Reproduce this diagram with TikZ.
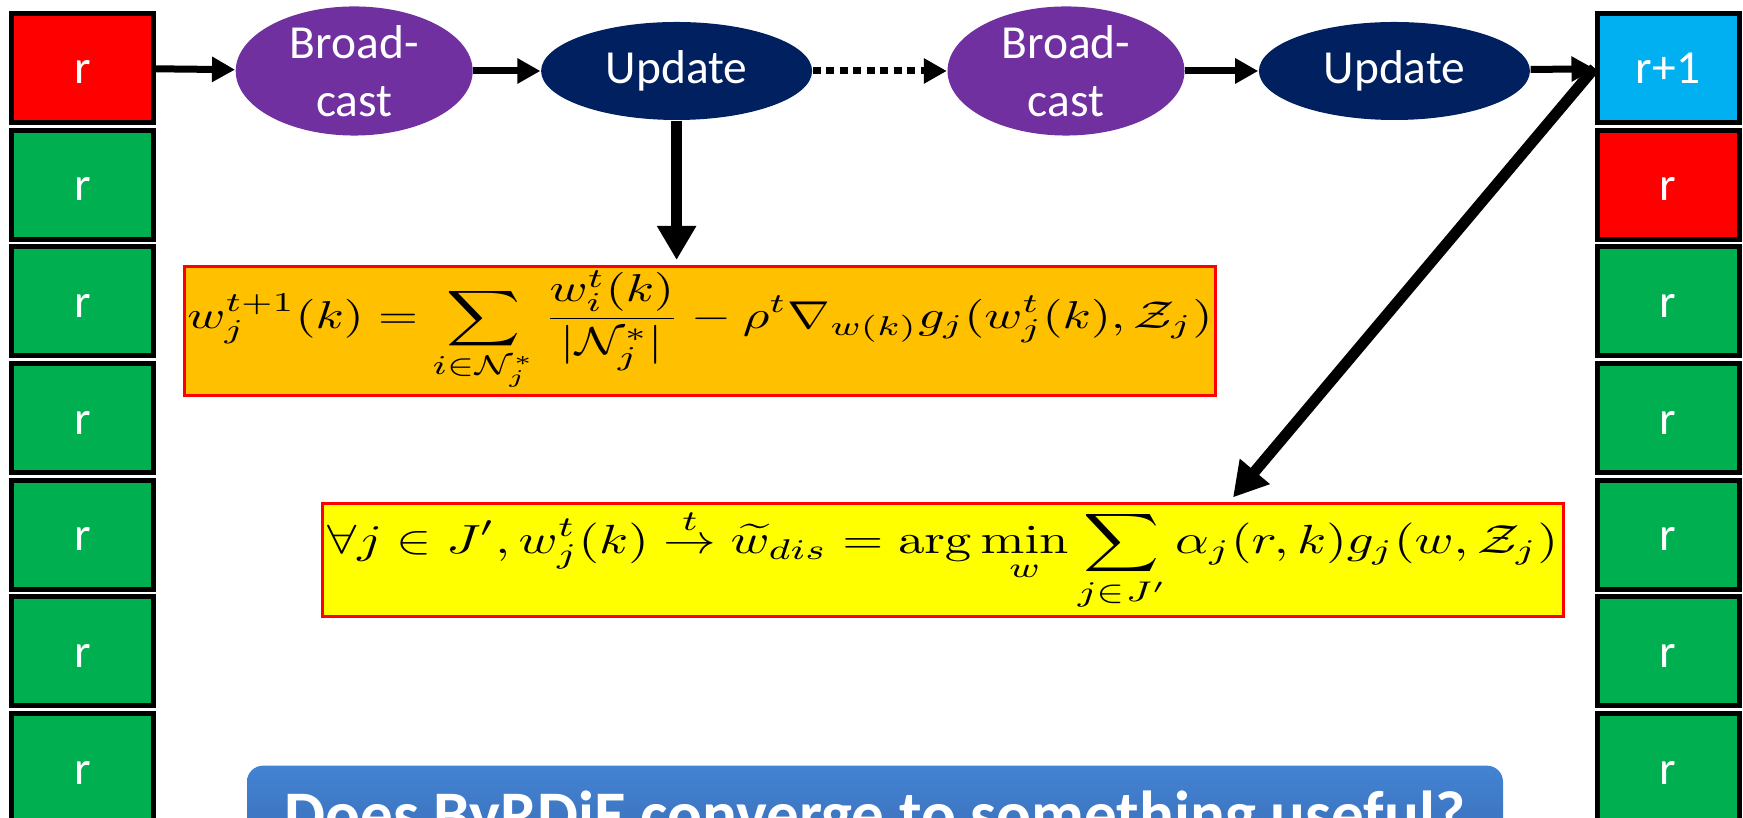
\documentclass[tikz,border=0pt]{standalone}
\usepackage{amsmath,amssymb}
\usepackage{graphicx}
\usepackage[no-math]{fontspec}
\newfontfamily\calibri{Carlito}
\usetikzlibrary{shapes.geometric, arrows.meta, positioning, calc}
\definecolor{cellred}{HTML}{FF0000}
\definecolor{cellgreen}{HTML}{00B050}
\definecolor{cellblue}{HTML}{00B0F0}
\definecolor{bcpurple}{HTML}{7030A0}
\definecolor{updnavy}{HTML}{002060}
\definecolor{eqorange}{HTML}{FFC000}
\definecolor{eqyellow}{HTML}{FFFF00}
\definecolor{bannertop}{HTML}{4383D3}
\definecolor{bannerbot}{HTML}{386AB2}

\begin{document}
\begin{tikzpicture}[
  lblfont/.style={font=\calibri\fontsize{13.5}{16.5}\selectfont, text=white},
  cell/.style={draw=black, line width=0.05cm, minimum width=1.42cm,
    minimum height=1.09cm, inner sep=0pt, text height=0.42cm,
    text depth=0.1cm, lblfont},
  oval/.style={ellipse, inner sep=0pt, minimum height=0.98cm,
    align=center, lblfont},
  bcast/.style={oval, fill=bcpurple, minimum width=2.37cm},
  upd/.style={oval, fill=updnavy, minimum width=2.71cm},
  eqbox/.style={draw=cellred, line width=0.03cm, inner sep=0pt},
  arr/.style={-{Triangle[length=0.23cm, width=0.24cm]}, line width=0.07cm},
  bigarr/.style={-{Triangle[length=0.34cm, width=0.37cm]}, line width=0.11cm},
  banner/.style={rounded corners=0.16cm, top color=bannertop,
    bottom color=bannerbot, minimum width=12.56cm, inner ysep=0.21cm,
    text height=0.5cm, text depth=0.12cm, text=white,
    font=\calibri\bfseries\fontsize{18.5}{22}\selectfont},
]
  \clip (0,0) rectangle (17.43,-8.18);

  % -- Node columns (round r and round r+1) --
  \foreach \i/\col in {0/cellred, 1/cellgreen, 2/cellgreen, 3/cellgreen,
    4/cellgreen, 5/cellgreen, 6/cellgreen}
    \node[cell, fill=\col] (L\i) at (0.825, {-0.68-1.167*\i}) {r};
  \foreach \i/\col/\txt in {0/cellblue/r+1, 1/cellred/r, 2/cellgreen/r,
    3/cellgreen/r, 4/cellgreen/r, 5/cellgreen/r, 6/cellgreen/r}
    \node[cell, fill=\col] (R\i) at (16.68, {-0.68-1.167*\i}) {\txt};

  % -- Broadcast / update steps --
  \node[bcast, right=0.79cm of L0, yshift=-0.03cm] (bc1) {Broad-\\cast};
  \node[upd, right=0.67cm of bc1] (up1) {Update};
  \node[bcast, right=1.34cm of up1] (bc2) {Broad-\\cast};
  \node[upd, right=0.73cm of bc2] (up2) {Update};

  \draw[arr] (L0) -- (bc1);
  \draw[arr] (bc1) -- (up1);
  \draw[arr, dash pattern=on 0.08cm off 0.055cm] (up1) -- (bc2);
  \draw[arr] (bc2) -- (up2);
  \draw[arr] (up2) -- (R0);

  % -- Equations --
  \node[eqbox, fill=eqorange, minimum width=10.31cm, minimum height=1.29cm]
    (eqa) at (7.00,-3.31)
    {\resizebox*{10.25cm}{1.2cm}{$\displaystyle
      w_j^{t+1}(k) = \sum_{i\in\mathcal{N}_j^*}\frac{w_i^t(k)}{|\mathcal{N}_j^*|}
      - \rho^t\nabla_{w(k)}g_j(w_j^t(k),\mathcal{Z}_j)$}};
  \node[eqbox, fill=eqyellow, minimum width=12.41cm, minimum height=1.13cm]
    (eqb) at (9.43,-5.60)
    {\resizebox*{12.3cm}{1.03cm}{$\displaystyle
      \forall j\in J', w_j^t(k)\stackrel{t}{\to}\widetilde{w}_{dis}
      = \arg\min_w\sum_{j\in J'}\alpha_j(r,k)g_j(w,\mathcal{Z}_j)$}};

  \coordinate (hit) at ($(eqb.north west)!0.73!(eqb.north east)$);
  \draw[bigarr, shorten >=0.05cm] (up1.south) -- (up1.south |- eqa.north);
  \draw[bigarr, shorten >=0.06cm] (R0.west) -- (hit);

  % -- Question banner --
  \node[banner, anchor=north] (ask) at (8.75,-7.65)
    {Does ByRDiE converge to something useful?};
\end{tikzpicture}
\end{document}
